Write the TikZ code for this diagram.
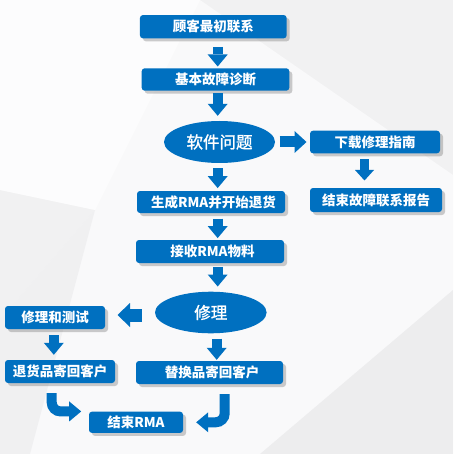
\documentclass[tikz,border=0pt]{standalone}
\usepackage{fontspec}
\newfontfamily\cjk{Noto Sans CJK SC}
\newfontfamily\cjkm[FakeBold=1.3]{Noto Sans CJK SC}
\usetikzlibrary{shapes.geometric,arrows.meta,shadows,calc}
\definecolor{boxblue}{HTML}{0070C0}
\definecolor{bgbase}{HTML}{F1F1F2}
\definecolor{bglight}{HTML}{F9F9FA}
\definecolor{bgdark}{HTML}{EAEAEC}
\begin{document}
\begin{tikzpicture}[x=1pt,y=-1pt,
  box/.style={fill=boxblue, rounded corners=3pt, inner sep=0pt, text=white,
    font=\cjk\bfseries\fontsize{13.5}{15}\selectfont,
    drop shadow={shadow xshift=3pt,shadow yshift=-3pt,opacity=0.28,fill=black!70}},
  oval/.style={ellipse, fill=boxblue, inner sep=0pt, text=white,
    font=\cjkm\fontsize{16.5}{18}\selectfont},
  barrow/.style={draw=boxblue, line width=10pt,
    -{Triangle[width=20pt,length=12pt,line width=0pt]}},
]
% background
\fill[bgbase] (0,0) rectangle (453,454);
\fill[bglight] (0,0) -- (200,0) -- (453,175) -- (453,290) -- (260,454) -- (0,454) -- (0,320) -- (95,210) -- (0,190) -- cycle;
\fill[white,opacity=0.6] (0,0) -- (200,0) -- (95,210) -- (0,190) -- cycle;
\fill[bgdark,opacity=0.6] (0,320) -- (95,210) -- (30,454) -- (0,454) -- cycle;
\fill[bgdark,opacity=0.5] (453,290) -- (453,454) -- (260,454) -- cycle;
\useasboundingbox (0,0) rectangle (453,454);

% nodes
\node[box, minimum width=146.7pt, minimum height=23.3pt] (c1) at (213.3,26.7) {顾客最初联系};
\node[box, minimum width=147.6pt, minimum height=22.4pt] (c2) at (215.5,79.5) {基本故障诊断};
\node[oval, minimum width=111pt, minimum height=42pt] (sw) at (219.5,142) {软件问题};
\node[box, minimum width=130pt, minimum height=22.6pt] (dl) at (375,142) {下载修理指南};
\node[box, minimum width=132pt, minimum height=24pt] (ef) at (376,200) {结束故障联系报告};
\node[box, minimum width=148pt, minimum height=22pt] (gen) at (211,202) {\hspace{5pt}生成RMA并开始退货};
\node[box, minimum width=148pt, minimum height=23pt] (rcv) at (210,251.5) {\hspace{5pt}接收RMA物料};
\node[oval, minimum width=111.6pt, minimum height=41.6pt] (rp) at (210.8,312.5) {修理};
\node[box, minimum width=100pt, minimum height=23pt] (rt) at (55,317.5) {修理和测试};
\node[box, minimum width=110pt, minimum height=23pt] (ret) at (60,371.5) {退货品寄回客户\hspace{8pt}};
\node[box, minimum width=147pt, minimum height=23pt] (rep) at (209.5,372.5) {\hspace{5pt}替换品寄回客户};
\node[box, minimum width=94pt, minimum height=21.3pt] (endr) at (136,422.3) {结束RMA};

% column / row helpers
\coordinate (cA) at (217.7,0);
\coordinate (cG) at (364.5,0);
\coordinate (cI) at (53.8,0);
\coordinate (cJ) at (216.7,0);
\coordinate (cK) at (51.7,0);
\coordinate (cL) at (224.7,0);
\coordinate (rH) at (0,315);

% connectors
\draw[barrow, shorten <=8.4pt, shorten >=1.6pt] (c1.south -| cA) -- (c2.north -| cA);
\draw[barrow, shorten <=2.6pt, shorten >=5pt] (c2.south -| cA) -- (sw.north -| cA);
\draw[barrow, line width=11pt, -{Triangle[width=22pt,length=12pt,line width=0pt]},
  shorten <=4.3pt, shorten >=3.3pt] (sw.east) -- (dl.west);
\draw[barrow, line width=9pt, -{Triangle[width=19pt,length=10.5pt,line width=0pt]},
  shorten <=6pt, shorten >=7.3pt] (dl.south -| cG) -- (ef.north -| cG);
\draw[barrow, shorten <=5.3pt, shorten >=2.7pt] (sw.south -| cA) -- (gen.north -| cA);
\draw[barrow, shorten <=5.3pt, shorten >=1.7pt] (gen.south -| cA) -- (rcv.north -| cA);
\draw[barrow, shorten <=3.7pt, shorten >=5pt] (rcv.south -| cA) -- (rp.north -| cA);
\draw[barrow, line width=13pt, -{Triangle[width=24pt,length=12.5pt,line width=0pt]},
  shorten <=13.3pt, shorten >=12.3pt] (rp.west |- rH) -- (rt.east |- rH);
\draw[barrow, shorten <=6pt, shorten >=5pt] (rt.south -| cI) -- (ret.north -| cI);
\draw[barrow, shorten <=5pt, shorten >=1pt] (rp.south -| cJ) -- (rep.north -| cJ);
\draw[barrow, rounded corners=9pt, shorten <=10pt, shorten >=7.6pt] (ret.south -| cK) |- (endr.north west);
\draw[barrow, rounded corners=9pt, shorten <=10pt, shorten >=13pt] (rep.south -| cL) |- (endr.east);
\end{tikzpicture}
\end{document}
